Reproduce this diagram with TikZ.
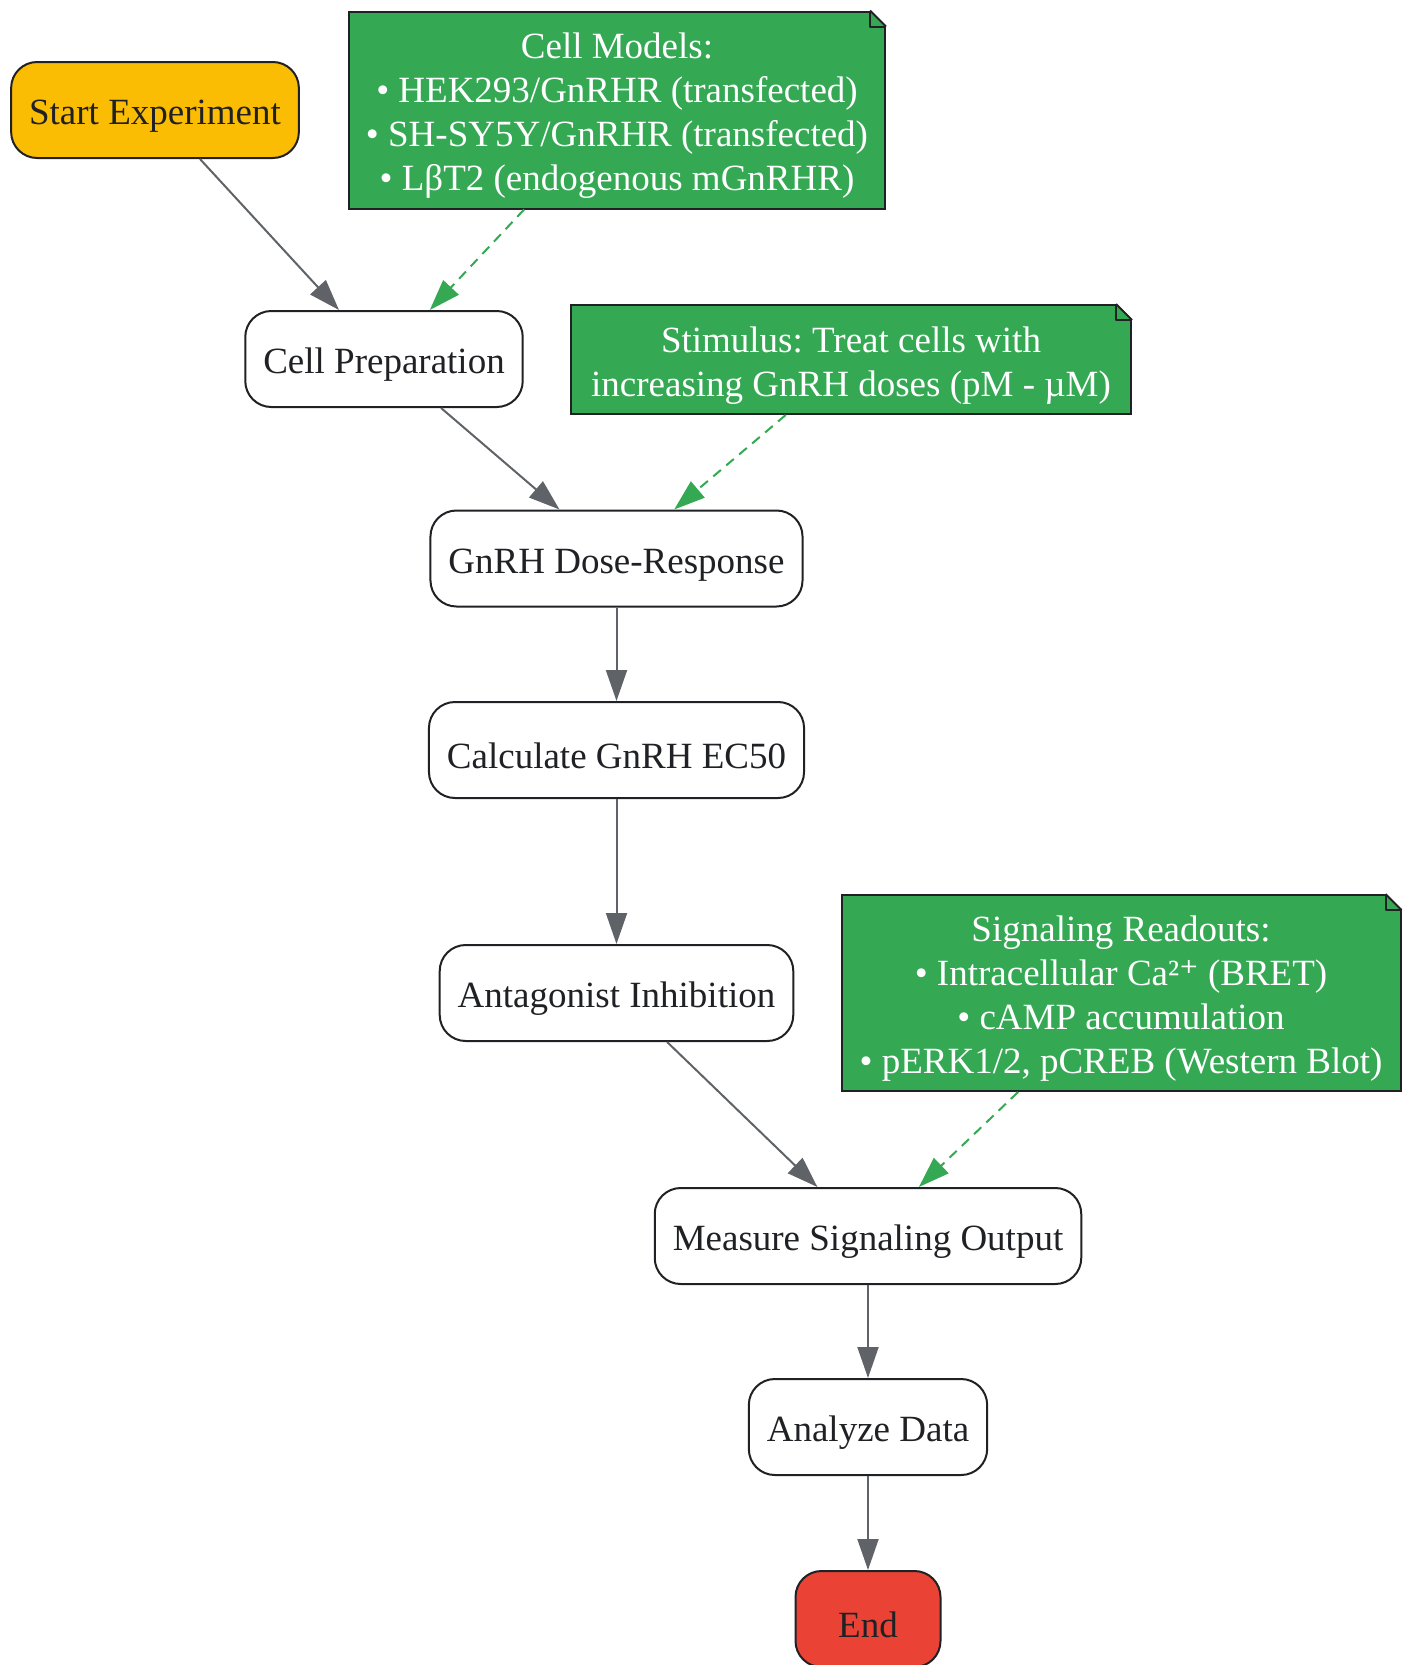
\documentclass[tikz,border=0pt]{standalone}
\usepackage{fontspec}
\setmainfont{Liberation Serif}
\newfontfamily\supfont{DejaVu Serif}
\usetikzlibrary{arrows.meta}
\frenchspacing
\definecolor{ink}{HTML}{202124}
\definecolor{noteg}{HTML}{34A853}
\definecolor{startc}{HTML}{FBBC04}
\definecolor{endc}{HTML}{EA4335}
\definecolor{edgegray}{HTML}{5F6368}
\def\topstrut{\rule{0pt}{37pt}}
% folded corner of a note node
\def\foldcorner(#1){\fill[white] ([xshift=-17pt]#1.north east) -- ([xshift=1.5pt,yshift=1.5pt]#1.north east) -- ([yshift=-17pt]#1.north east) -- cycle;
	\draw[ink, line width=2pt, line join=round] ([xshift=-16pt]#1.north east) -- ([yshift=-16pt]#1.north east);
	\draw[ink, line width=2pt, line join=round] ([xshift=-16pt]#1.north east) -- ([xshift=-16pt,yshift=-16pt]#1.north east) -- ([yshift=-16pt]#1.north east);}

\begin{document}
\begin{tikzpicture}[x=1pt,y=-1pt,
		every node/.style={font=\fontsize{37}{44}\selectfont, text=ink},
		stepnode/.style={draw=ink, line width=2pt, rounded corners=26pt, fill=white, minimum height=96pt, minimum width=145pt, inner xsep=18pt, execute at begin node={\topstrut}},
		notenode/.style={draw=ink, line width=2pt, fill=noteg, text=white, align=center, inner xsep=14pt, inner ysep=8pt},
		flow/.style={draw=edgegray, line width=2pt, -{Triangle[length=31pt,width=21pt]}},
		feed/.style={draw=noteg, line width=2pt, dash pattern=on 10pt off 7pt, -{Triangle[length=31pt,width=21pt]}}]
	\useasboundingbox (0,0) rectangle (1409,1665);
	
	% main steps
	\node[stepnode, fill=startc] (start) at (155,110) {Start Experiment};
	\node[stepnode] (prep) at (384,359) {Cell Preparation};
	\node[stepnode] (dose) at (616.5,558.5) {GnRH Dose-Response};
	\node[stepnode] (ec) at (616.5,750) {Calculate GnRH EC50};
	\node[stepnode] (antag) at (616.5,993) {Antagonist Inhibition};
	\node[stepnode] (measure) at (868,1236) {Measure Signaling Output};
	\node[stepnode] (analyze) at (868,1427) {Analyze Data};
	\node[stepnode, fill=endc] (finish) at (868,1619) {End};
	
	% notes
	\node[notenode, minimum width=536pt, minimum height=197pt] (models) at (617,110)
		{\topstrut Cell Models:\\• HEK293/GnRHR (transfected)\\• SH-SY5Y/GnRHR (transfected)\\• LβT2 (endogenous mGnRHR)};
	\foldcorner(models)
	\node[notenode, minimum width=560pt, minimum height=109pt] (stim) at (851,359.5)
		{\topstrut Stimulus: Treat cells with\\increasing GnRH doses (pM - µM)};
	\foldcorner(stim)
	\node[notenode, minimum width=559pt, minimum height=196pt] (readouts) at (1121,993)
		{\topstrut Signaling Readouts:\\• Intracellular Ca²{\supfont ⁺} (BRET)\\• cAMP accumulation\\• pERK1/2, pCREB (Western Blot)};
	\foldcorner(readouts)
	
	% connectors
	\draw[flow] (start) -- (prep);
	\draw[flow] (prep) -- (dose);
	\draw[flow] (dose) -- (ec);
	\draw[flow] (ec) -- (antag);
	\draw[flow] (antag) -- (measure);
	\draw[flow] (measure) -- (analyze);
	\draw[flow] (analyze) -- (finish);
	
	\draw[feed] (models) -- (prep);
	\draw[feed] (stim) -- (dose);
	\draw[feed] (readouts) -- (measure);
\end{tikzpicture}
\end{document}
